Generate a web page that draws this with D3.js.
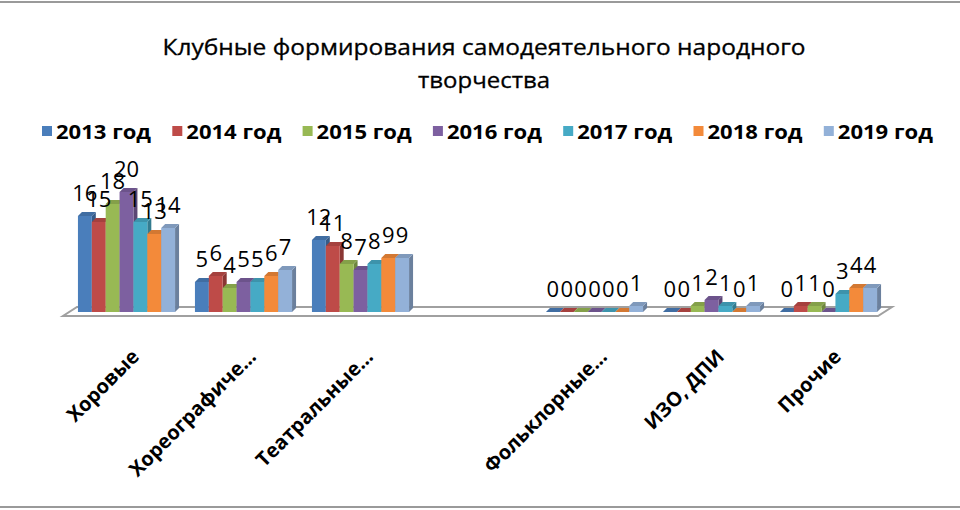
<!DOCTYPE html>
<html>
<head>
<meta charset="utf-8">
<script src="https://cdn.jsdelivr.net/npm/d3@7"></script>
<style>
  body { margin: 0; background: #fff; }
  text { font-family: "Open Sans", "Noto Sans", sans-serif; fill: #000; }
</style>
</head>
<body>
<script>
// chart data
var categories = ["Хоровые", "Хореографиче...", "Театральные...", "", "Фольклорные...", "ИЗО, ДПИ", "Прочие"];
var years = ["2013 год", "2014 год", "2015 год", "2016 год", "2017 год", "2018 год", "2019 год"];
// values per category, one per year (null = empty category)
var values = [
    [16, 15, 18, 20, 15, 13, 14],
    [5, 6, 4, 5, 5, 6, 7],
    [12, 11, 8, 7, 8, 9, 9],
    null,
    [0, 0, 0, 0, 0, 0, 1],
    [0, 0, 1, 2, 1, 0, 1],
    [0, 1, 1, 0, 3, 4, 4]
];
var colors = ["#4a7ebb", "#be4b48", "#98b954", "#7d60a0", "#46aac5", "#f38a3a", "#93b1d8"];

var width = 960, height = 510;
var depth = 4;

var svg = d3.select("body").append("svg")
    .attr("width", width)
    .attr("height", height);

// chart border
svg.append("rect")
    .attr("x", -2).attr("y", 2)
    .attr("width", width + 4).attr("height", 505)
    .attr("fill", "none")
    .attr("stroke", "#9a9a9a")
    .attr("stroke-width", 2);

// title
svg.append("text")
    .attr("x", 484).attr("y", 55)
    .attr("text-anchor", "middle")
    .attr("font-size", 22)
    .attr("stroke", "#000").attr("stroke-width", 0.3)
    .attr("textLength", 643)
    .attr("lengthAdjust", "spacingAndGlyphs")
    .text("Клубные формирования самодеятельного народного");
svg.append("text")
    .attr("x", 484).attr("y", 88)
    .attr("text-anchor", "middle")
    .attr("font-size", 22)
    .attr("stroke", "#000").attr("stroke-width", 0.3)
    .attr("textLength", 132)
    .attr("lengthAdjust", "spacingAndGlyphs")
    .text("творчества");

// legend
var legend = svg.append("g").selectAll("g")
    .data(years)
    .join("g")
    .attr("transform", function(d, i) { return "translate(" + (42 + i * 130.3) + ",132)"; });
legend.append("rect")
    .attr("x", 0).attr("y", -6)
    .attr("width", 10).attr("height", 10)
    .attr("fill", function(d, i) { return colors[i]; });
legend.append("text")
    .attr("x", 14).attr("y", 0)
    .attr("dy", "0.35em")
    .attr("font-size", 20)
    .attr("font-weight", "bold")
    .attr("textLength", 95)
    .attr("lengthAdjust", "spacingAndGlyphs")
    .text(function(d) { return d; });

// scales
var x0 = d3.scaleBand()
    .domain(d3.range(categories.length))
    .range([68, 887])
    .paddingInner(0.17)
    .paddingOuter(0.085);

var x1 = d3.scaleBand()
    .domain(d3.range(years.length))
    .range([0, x0.bandwidth()]);

var y = d3.scaleLinear()
    .domain([0, 20])
    .range([312, 192]);

// floor
var y0 = y(0);
var fl = 63, fr = 878;
svg.append("path")
    .attr("d", "M" + fl + "," + (y0 + 4) + "L" + fr + "," + (y0 + 4) +
        "L" + (fr + 14) + "," + (y0 - 5) + "L" + (fl + 14) + "," + (y0 - 5) + "Z")
    .attr("fill", "#fff")
    .attr("stroke", "#a0a0a0")
    .attr("stroke-width", 2);

// bars
var bars = [];
values.forEach(function(row, i) {
    if (!row) return;
    row.forEach(function(v, j) { bars.push({cat: i, year: j, value: v}); });
});

var g = svg.append("g");
bars.forEach(function(d) {
    var x = x0(d.cat) + x1(d.year), w = x1.bandwidth(), top = y(d.value);
    var c = d3.color(colors[d.year]);
    var bar = g.append("g");
    bar.append("path")
        .attr("d", "M" + (x + w) + "," + top + "l" + depth + "," + (-depth) +
            "V" + (y0 - depth) + "L" + (x + w) + "," + y0 + "Z")
        .attr("fill", c.darker(0.9));
    bar.append("path")
        .attr("d", "M" + x + "," + top + "l" + depth + "," + (-depth) +
            "h" + w + "l" + (-depth) + "," + depth + "Z")
        .attr("fill", c.darker(0.4));
    bar.append("rect")
        .attr("x", x).attr("y", top)
        .attr("width", w).attr("height", y0 - top)
        .attr("fill", c);
});

// value labels
svg.append("g").selectAll("text")
    .data(bars)
    .join("text")
    .attr("x", function(d) { return x0(d.cat) + x1(d.year) + x1.bandwidth() / 2; })
    .attr("y", function(d) { return y(d.value) - 15; })
    .attr("text-anchor", "middle")
    .attr("font-size", 22)
    .text(function(d) { return d.value; });

// category labels
svg.append("g").selectAll("text")
    .data(categories)
    .join("text")
    .attr("transform", function(d, i) {
        return "translate(" + (x0(i) + x0.bandwidth() / 2 + 4) + ",348) rotate(-45)";
    })
    .attr("text-anchor", "end")
    .attr("dy", "0.7em")
    .attr("font-size", 20)
    .attr("font-weight", "bold")
    .text(function(d) { return d; });
</script>
</body>
</html>
